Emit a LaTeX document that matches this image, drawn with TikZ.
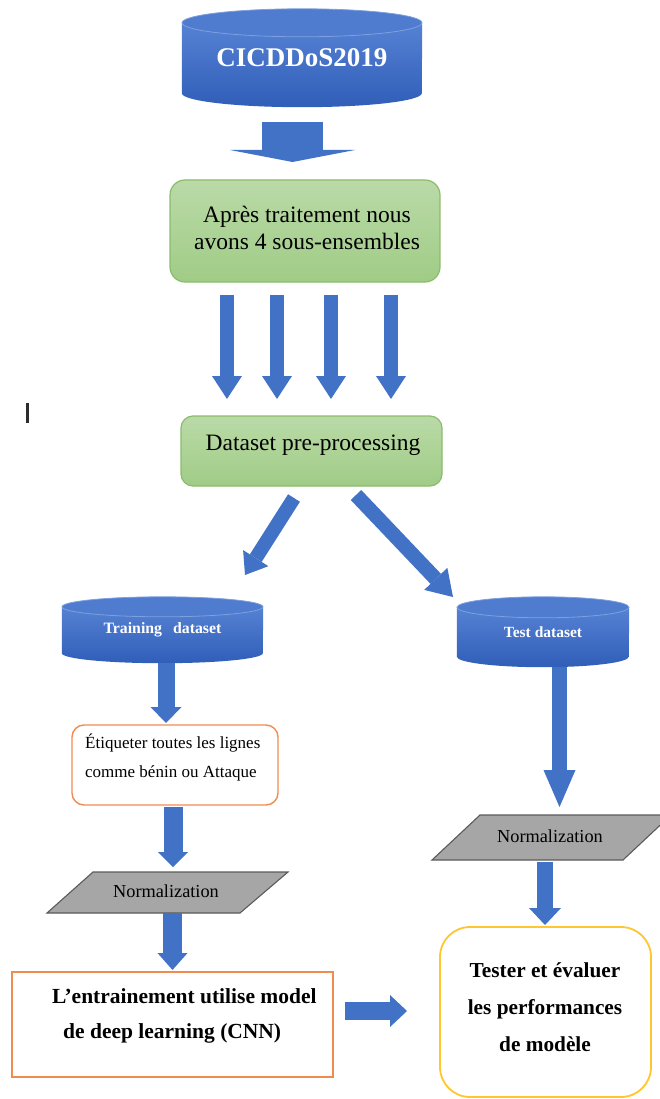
\documentclass[tikz,border=0pt]{standalone}
\usepackage{fontspec}
\setmainfont{Liberation Serif}
\usetikzlibrary{arrows.meta,backgrounds,calc}
\definecolor{ablue}{RGB}{66,114,198}
\definecolor{cylA}{RGB}{86,130,212}
\definecolor{cylB}{RGB}{48,94,184}
\definecolor{cylLid}{RGB}{80,124,208}
\definecolor{cylEdge}{RGB}{125,160,222}
\definecolor{gTop}{RGB}{186,218,168}
\definecolor{gBot}{RGB}{160,204,134}
\definecolor{gEdge}{RGB}{138,188,108}
\definecolor{orng}{RGB}{240,140,80}
\definecolor{goldb}{RGB}{255,198,48}
\definecolor{pgray}{RGB}{166,166,166}
\definecolor{pedge}{RGB}{90,90,90}
\newcommand\myfs[2]{\fontsize{#1}{#2}\selectfont}
\newcommand\cylbody[3]{%
  \begin{scope}[on background layer]
    \shade[top color=cylA,bottom color=cylB]
      ($(#1.north west)+(0,#3)$) -- ($(#1.south west)+(0,-#3)$)
      arc[start angle=180,end angle=0,x radius=#2,y radius=#3]
      -- ($(#1.north east)+(0,#3)$) -- cycle;
    \fill[cylLid,draw=cylEdge,line width=0.8pt] ($(#1.north)+(0,#3)$) ellipse[x radius=#2,y radius=#3];
  \end{scope}}
\tikzset{
  cyl/.style={inner sep=0pt,text=white},
  gbox/.style={draw=gEdge,line width=1.2pt,top color=gTop,bottom color=gBot,inner sep=0pt},
  obox/.style={draw=orng,line width=1.4pt,fill=white,inner sep=0pt},
  ybox/.style={draw=goldb,line width=1.8pt,fill=white,inner sep=0pt,rounded corners=30pt},
  pgram/.style={fill=pgray,draw=pedge,line width=1.1pt},
  txtr/.style={inner sep=0pt,font=\myfs{23.5}{27}},
  txtn/.style={inner sep=0pt,font=\myfs{18.3}{22}},
  txts/.style={inner sep=0pt,font=\myfs{17}{29}},
  txtb/.style={inner sep=0pt,font=\myfs{21.5}{35}\bfseries},
  txtc/.style={inner sep=0pt,font=\myfs{21.3}{37}\bfseries},
  barrow/.style n args={3}{draw=ablue,line width=#1,-{Triangle[width=#2,length=#3,line width=0pt]}}
}
\begin{document}
\begin{tikzpicture}[x=1pt,y=-1pt]
\useasboundingbox (0,0) rectangle (660,1099);
\clip (0,0) rectangle (660,1099);

% cylinders
\node[cyl,minimum width=240pt,minimum height=98pt,font=\myfs{27}{30}\bfseries] (cic) at (302,58) {CICDDoS2019};
\cylbody{cic}{120}{14}
\node[cyl,minimum width=201pt,minimum height=66pt,font=\myfs{15.8}{18}\bfseries] (trn) at (162.5,630) {Training\hspace{0.7em}dataset};
\cylbody{trn}{100.5}{10}
\node[cyl,minimum width=172pt,minimum height=70pt,font=\myfs{15.5}{18}\bfseries] (tst) at (543,632) {Test dataset};
\cylbody{tst}{86}{10.5}

% green boxes
\node[gbox,rounded corners=15pt,minimum width=270pt,minimum height=102pt] (g1) at (305,231) {};
\node[txtr,align=center] (g1t) at (307,228) {Après traitement nous\\avons 4 sous-ensembles};
\node[gbox,rounded corners=12pt,minimum width=261pt,minimum height=70pt] (g2) at (311.5,451) {};
\node[txtr] (g2t) at (313,445.5) {Dataset pre-processing};

% label box
\node[obox,rounded corners=12pt,minimum width=206pt,minimum height=80pt] (eti) at (175,765) {};
\node[txts,align=left,anchor=west] (etit) at (85,758) {Étiqueter toutes les lignes\\comme bénin ou Attaque};

% parallelograms
\filldraw[pgram] (47,913) -- (93,872) -- (288,872) -- (240,913) -- cycle;
\node[txtn] (nl) at (166,891) {Normalization};
\filldraw[pgram] (432,860) -- (480,815) -- (671,815) -- (623,860) -- cycle;
\node[txtn] (nr) at (550,836) {Normalization};

% training box
\node[obox,minimum width=321pt,minimum height=105pt] (cnn) at (172.5,1024.5) {};
\node[txtb,align=left,anchor=west] (cnnt) at (52,1016) {L’entrainement utilise model\\\hspace*{11pt}de deep learning (CNN)};

% evaluation box
\node[ybox,minimum width=211pt,minimum height=170pt] (eval) at (545.5,1012) {};
\node[txtc,align=center] (evalt) at (545,1007) {Tester et évaluer\\les performances\\de modèle};

% small mark
\fill[gray!35!black] (25.5,403) rectangle (28.5,423);

% connector end points
\coordinate (a1s) at (292.5,122); \coordinate (a1e) at (292.5,162);
\coordinate (a2s) at (227,295); \coordinate (a2e) at (227,399);
\coordinate (a3s) at (277,295); \coordinate (a3e) at (277,399);
\coordinate (a4s) at (331,295); \coordinate (a4e) at (331,399);
\coordinate (a5s) at (391,295); \coordinate (a5e) at (391,399);
\coordinate (a6s) at (294,498); \coordinate (a6e) at (245,575);
\coordinate (a7s) at (356,495); \coordinate (a7e) at (453,597);
\coordinate (a8s) at (166,663); \coordinate (a8e) at (166,723);
\coordinate (a9s) at (173,807); \coordinate (a9e) at (173,867);
\coordinate (a10s) at (172.5,913); \coordinate (a10e) at (172.5,970);
\coordinate (a11s) at (345,1011); \coordinate (a11e) at (407,1011);
\coordinate (a12s) at (559.5,667); \coordinate (a12e) at (559.5,807);
\coordinate (a13s) at (545,862); \coordinate (a13e) at (545,925);

% connectors
\draw[barrow={61pt}{125pt}{12pt}] (a1s) -- (a1e);
\draw[barrow={13.5pt}{30pt}{23pt}] (a2s) -- (a2e);
\draw[barrow={13.5pt}{30pt}{23pt}] (a3s) -- (a3e);
\draw[barrow={13.5pt}{30pt}{23pt}] (a4s) -- (a4e);
\draw[barrow={13.5pt}{30pt}{23pt}] (a5s) -- (a5e);
\draw[barrow={14pt}{30pt}{20pt}] (a6s) -- (a6e);
\draw[barrow={14.5pt}{32pt}{25pt}] (a7s) -- (a7e);
\draw[barrow={17pt}{31pt}{16pt}] (a8s) -- (a8e);
\draw[barrow={19pt}{30pt}{15pt}] (a9s) -- (a9e);
\draw[barrow={19pt}{30pt}{17pt}] (a10s) -- (a10e);
\draw[barrow={18pt}{32pt}{17pt}] (a11s) -- (a11e);
\draw[barrow={15pt}{32pt}{37pt}] (a12s) -- (a12e);
\draw[barrow={16pt}{32pt}{17pt}] (a13s) -- (a13e);
\end{tikzpicture}
\end{document}
